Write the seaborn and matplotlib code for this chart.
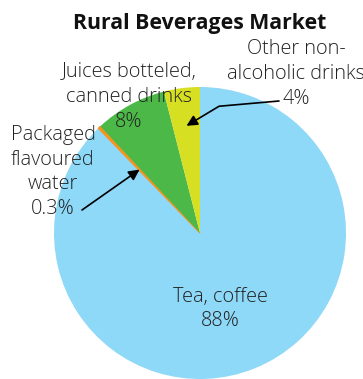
import numpy as np
import matplotlib
matplotlib.use("Agg")
import matplotlib.pyplot as plt
import seaborn as sns
from matplotlib import font_manager

# Market share of beverage categories (percent)
categories = ["Tea, coffee", "Packaged\nflavoured\nwater", "Juices botteled,\ncanned drinks",
              "Other non-\nalcoholic drinks"]
shares = [88, 0.3, 8, 4]
share_labels = ["88%", "0.3%", "8%", "4%"]
colors = ["#8ed8f8", "#f7941d", "#4cb848", "#d7df23"]

sns.set_theme(style="white")
names = {f.name for f in font_manager.fontManager.ttflist}
family = ["Open Sans", "DejaVu Sans"] if "Open Sans" in names else ["DejaVu Sans"]
plt.rcParams["font.family"] = family

fig = plt.figure(figsize=(3.63, 3.79), dpi=100)
R_PX = 146.0
cx, cy = 200.0, 233.0
W, H = 363.0, 379.0
ax = fig.add_axes([(cx - R_PX) / W, (H - cy - R_PX) / H, 2 * R_PX / W, 2 * R_PX / H])

palette = sns.color_palette(colors)
wedges, _ = ax.pie(shares, colors=palette, startangle=90, counterclock=False,
                   radius=1.0, wedgeprops=dict(linewidth=0))
wedges[1].set_edgecolor(palette[1])
wedges[1].set_linewidth(0.9)
ax.set_xlim(-1, 1)
ax.set_ylim(-1, 1)
ax.set_aspect("equal")
ax.axis("off")


def px(x, y):
    """Convert figure pixel position to pie data coordinates."""
    return ((x - cx) / R_PX, (cy - y) / R_PX)


def wedge_point(w, r):
    mid = np.deg2rad((w.theta1 + w.theta2) / 2)
    return (r * np.cos(mid), r * np.sin(mid))


txt = dict(fontsize=14.3, fontweight="light", color="#222222", ha="center",
           va="center", linespacing=1.32)

# Tea, coffee inside the big wedge
ax.text(*px(220, 309), f"{categories[0]}\n{share_labels[0]}", **txt)
# Juices
ax.text(*px(129, 97), f"{categories[2]}\n{share_labels[2]}", clip_on=False, **txt)
# Other non-alcoholic
ax.text(*px(296, 74), f"{categories[3]}\n{share_labels[3]}", clip_on=False, **txt)
# Packaged water
ax.text(*px(53, 172), f"{categories[1]}\n{share_labels[1]}", clip_on=False, **txt)

arrow = dict(arrowstyle="-|>", color="black", lw=1.2, mutation_scale=16,
             shrinkA=0, shrinkB=0)
ax.annotate("", xy=wedge_point(wedges[3], 0.74), xytext=px(279, 101),
            arrowprops=dict(connectionstyle="angle,angleA=5,angleB=31,rad=0", **arrow),
            annotation_clip=False)
ax.annotate("", xy=wedge_point(wedges[1], 0.6), xytext=px(82, 210),
            arrowprops=arrow, annotation_clip=False)

fig.text(200 / W, 1 - 23 / H, "Rural Beverages Market", ha="center", va="center",
         fontsize=15.3, fontweight="bold", color="#111111")

fig.savefig("out.png", dpi=100)
